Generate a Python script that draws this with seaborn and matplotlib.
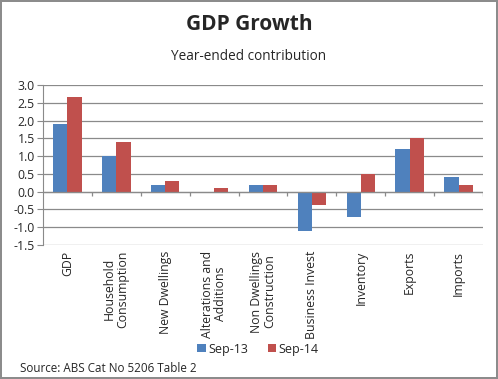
import matplotlib
matplotlib.use("Agg")
import matplotlib.pyplot as plt
import seaborn as sns
import pandas as pd
import numpy as np

categories = ["GDP", "Household\nConsumption", "New Dwellings", "Alterations and\nAdditions",
              "Non Dwellings\nConstruction", "Business Invest", "Inventory", "Exports", "Imports"]
sep13 = [1.9, 1.0, 0.2, 0.0, 0.2, -1.1, -0.7, 1.2, 0.4]
sep14 = [2.65, 1.4, 0.3, 0.1, 0.2, -0.38, 0.5, 1.5, 0.2]
series = ["Sep-13", "Sep-14"]
colors = ["#4F81BD", "#C0504D"]
yticks = [-1.5, -1.0, -0.5, 0.0, 0.5, 1.0, 1.5, 2.0, 2.5, 3.0]

df = pd.DataFrame({
    "cat": categories * 2,
    "val": sep13 + sep14,
    "series": [series[0]] * len(categories) + [series[1]] * len(categories),
})

sns.set_style("white")
plt.rcParams["font.family"] = ["Open Sans", "DejaVu Sans"]

fig = plt.figure(figsize=(4.98, 3.79), dpi=100, edgecolor="#8c8c8c", linewidth=1.5)
ax = fig.add_axes([43/498, 1-245/379, 440/498, 160/379])

sns.barplot(data=df, x="cat", y="val", hue="series", palette=colors, width=0.58,
            saturation=1, ax=ax, legend=True, edgecolor="none")

ax.set_ylim(-1.5, 3.0)
ax.set_xlim(-0.5, len(categories) - 0.5)
ax.set_yticks(yticks)
ax.set_yticklabels([f"{v:.1f}" for v in yticks], fontsize=8.8)
ax.yaxis.grid(True, color="#8a8a8a", linewidth=0.9)
ax.set_axisbelow(True)
for s in ["top", "right", "bottom"]:
    ax.spines[s].set_visible(False)
ax.spines["left"].set_color("#8a8a8a")
ax.tick_params(axis="y", length=4, color="#8a8a8a", pad=2, left=True)
ax.set_xticks(range(len(categories)))
ax.set_xticklabels(categories, rotation=90, fontsize=8.8, va="top", ha="center",
                   linespacing=1.05, multialignment="center")
ax.tick_params(axis="x", length=0, pad=4)
ax.set_xlabel("")
ax.set_ylabel("")

# category axis at zero with boundary ticks
ax.axhline(0, color="#8a8a8a", linewidth=0.9, zorder=1)
bounds = np.arange(len(categories) + 1) - 0.5
ax.vlines(bounds[1:], -0.12, 0, color="#8a8a8a", linewidth=0.9, zorder=1)

leg = ax.legend(loc="center", bbox_to_anchor=(258/498, 1 - 349/379),
                bbox_transform=fig.transFigure, ncol=2,
                frameon=False, fontsize=9, handlelength=0.65, handleheight=0.65,
                columnspacing=1.6, handletextpad=0.2, borderaxespad=0, borderpad=0)

fig.text(0.5, 1 - 25/379, "GDP Growth", ha="center", va="center", fontsize=15, fontweight="bold")
fig.text(0.5, 1 - 57/379, "Year-ended contribution", ha="center", va="center", fontsize=9.8)
fig.text(20/498, 1 - 368/379, "Source: ABS Cat No 5206 Table 2", ha="left", va="center", fontsize=8.4)

fig.savefig("out.png", dpi=100, edgecolor=fig.get_edgecolor())
